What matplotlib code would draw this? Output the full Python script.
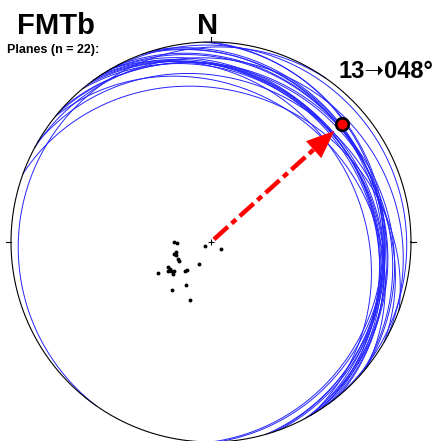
import numpy as np
import matplotlib.pyplot as plt
from matplotlib.patches import Polygon

# =============================================================================
#                           data read off the stereonet
# =============================================================================

# planes as dip direction / dip [deg]
dip_dir = [90, 74, 70, 59, 60, 57, 54, 50, 60, 40, 28,
           54, 305, 39, 30, 20, 72, 56, 88, 62, 52, 42]
dip = [15, 15, 15, 15, 20, 20, 20, 20, 25, 15, 10,
       3, 5, 25, 20, 25, 16, 21, 14, 15, 19, 16]

mean_trend = 48     # [deg]
mean_plunge = 13    # [deg]

title = 'FMTb'
north = 'N'
subtitle = 'Planes (n = %d):' % len(dip)
mean_label = '%02d\u279d%03d\u00b0' % (mean_plunge, mean_trend)

plt.rcParams['font.family'] = ['Liberation Sans', 'DejaVu Sans']
plt.rcParams['lines.scale_dashes'] = False


def proj(trend, plunge):
    # equal-area, lower hemisphere
    t = np.radians(trend)
    p = np.radians(plunge)
    r = np.sqrt(2) * np.sin((np.pi / 2 - p) / 2)
    return r * np.sin(t), r * np.cos(t)


# =============================================================================
#                               plotting
# =============================================================================

fig = plt.figure(figsize=(4.41, 4.41), dpi=100)
ax = fig.add_axes([0, 0, 1, 1])
ax.set_xlim(-211 / 200, 230 / 200)
ax.set_ylim(-199 / 200, 242 / 200)
ax.set_aspect('equal')
ax.axis('off')

# primitive + ticks
a = np.linspace(0, 2 * np.pi, 400)
ax.plot(np.cos(a), np.sin(a), color='k', lw=0.8, zorder=3)
for az in [0, 90, 180, 270]:
    s, c = np.sin(np.radians(az)), np.cos(np.radians(az))
    ax.plot([s, 1.025 * s], [c, 1.025 * c], color='k', lw=0.8)

# great circles
for d, dp in zip(dip_dir, dip):
    th = np.linspace(d - 90, d + 90, 181)
    pl = np.degrees(np.arctan(np.tan(np.radians(dp)) * np.cos(np.radians(th - d))))
    x, y = proj(th, pl)
    ax.plot(x, y, color='#2424ff', lw=0.7, zorder=2)

# poles
px, py = proj(np.array(dip_dir) + 180, 90 - np.array(dip))
ax.plot(px, py, 'ko', ms=2.8, mec='none', zorder=4)
ax.plot(0, 0, 'k+', ms=4, mew=0.8, zorder=4)

# mean dip vector with arrow
mx, my = proj(mean_trend, mean_plunge)
rd = np.hypot(mx, my)
ux, uy = mx / rd, my / rd
tip = rd - 0.05
base = tip - 0.14
ax.plot([0.02 * ux, (base + 0.01) * ux], [0.02 * uy, (base + 0.01) * uy],
        color='#ff0000', lw=3.2, ls=(0, (13.5, 3.6, 4.3, 3.6)),
        solid_capstyle='butt', dash_capstyle='butt', zorder=5)
hw = 0.057
head = [[tip * ux, tip * uy],
        [base * ux - hw * uy, base * uy + hw * ux],
        [base * ux + hw * uy, base * uy - hw * ux]]
ax.add_patch(Polygon(head, closed=True, color='#ff0000', lw=0, zorder=5))
ax.plot(mx, my, 'o', color='#ff0000', ms=9, mec='k', mew=1.9, zorder=6)

# labels
fig.text(17 / 441, 1 - 34 / 441, title, fontsize=21, fontweight='bold',
         va='baseline', ha='left')
fig.text(207.5 / 441, 1 - 34 / 441, north, fontsize=21, fontweight='bold',
         va='baseline', ha='center')
fig.text(7 / 441, 1 - 53 / 441, subtitle, fontsize=9, fontweight='bold',
         va='baseline', ha='left')
fig.text(339 / 441, 1 - 78 / 441, mean_label, fontsize=17, fontweight='bold',
         va='baseline', ha='left')

fig.savefig('out.png', dpi=100, facecolor='white')
